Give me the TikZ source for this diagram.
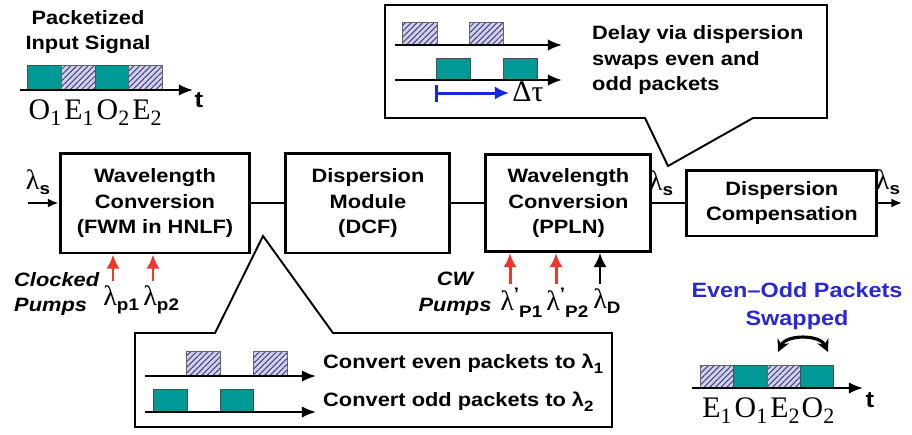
\documentclass[tikz,border=0pt]{standalone}
\usepackage{fontspec}
\setmainfont{Liberation Serif}
\setsansfont{Liberation Sans}[FakeStretch=1.13]
\usetikzlibrary{positioning, arrows.meta, patterns.meta}

\definecolor{pkteal}{RGB}{0,153,150}
\definecolor{pklav}{RGB}{208,208,236}
\definecolor{pknavy}{RGB}{50,50,115}
\definecolor{pumpred}{RGB}{240,55,45}
\definecolor{swapblue}{RGB}{40,40,215}
\definecolor{taublue}{RGB}{20,40,220}

\newcommand\lam[1]{{\rmfamily\mdseries\fontsize{16}{16}\selectfont λ}\raisebox{-0.55ex}{\fontsize{9.5}{9.5}\selectfont #1}}
\newcommand\lamp[1]{{\rmfamily\mdseries\fontsize{16}{16}\selectfont λ}\raisebox{1ex}{\fontsize{9.5}{9.5}\selectfont '}\raisebox{-0.75ex}{\fontsize{9.5}{9.5}\selectfont #1}}
\newcommand\pklbl[2]{#1\raisebox{-0.45ex}{\fontsize{12.5}{12.5}\selectfont #2}}

\begin{document}
\begin{tikzpicture}[
    x=0.02cm, y=-0.02cm,
    font=\sffamily\bfseries\fontsize{11}{14.7}\selectfont,
    box/.style={
        draw,
        line width=1.7pt,
        align=center,
        minimum height=2cm
    },
    wire/.style={line width=1.1pt},
    arrow/.style={
        -{Latex[length=6pt,width=5pt]},
        line width=1.1pt
    },
    pump/.style={
        -{Latex[length=8pt,width=7.5pt]},
        line width=1.7pt
    },
    callout/.style={draw, fill=white, line width=1.1pt},
    axis/.style={-{Latex[length=8pt,width=6.5pt]}, line width=1.2pt},
    oddpk/.style={fill=pkteal, draw=black!70, line width=0.4pt},
    evenpk/.style={
        preaction={fill=pklav},
        pattern={Lines[angle=45, distance=2.3pt, line width=0.5pt]},
        pattern color=pknavy,
        draw=black!60, line width=0.4pt
    },
    serif/.style={font=\rmfamily\mdseries\fontsize{17}{17}\selectfont}
]
\useasboundingbox (0,0) rectangle (912,434);

\node[box, minimum width=3.8cm] (fwm) at (155,203)
    {Wavelength\\Conversion\\(FWM in HNLF)};
\node[box, right=0.66cm of fwm, minimum width=3.28cm] (dcf)
    {Dispersion\\Module\\(DCF)};
\node[box, right=0.66cm of dcf, minimum width=3.3cm, minimum height=1.94cm] (ppln)
    {Wavelength\\Conversion\\(PPLN)};
\node[box, right=0.66cm of ppln, minimum width=3.8cm, minimum height=1.32cm] (comp)
    {Dispersion\\Compensation};

\coordinate (in) at (28,203);
\coordinate (out) at (902,203);
\node at (38,182) {\lam{s}};
\node at (661,183) {\lam{s}};
\node at (888,182) {\lam{s}};

\draw[arrow] (in) -- (fwm);
\draw[wire] (fwm) -- (dcf);
\draw[wire] (dcf) -- (ppln);
\draw[wire] (ppln) -- (comp);
\draw[arrow] (comp) -- (out);

\coordinate (p1) at (113,281);
\coordinate (p2) at (153,281);
\draw[pump, pumpred] (p1) -- (p1 |- fwm.south);
\draw[pump, pumpred] (p2) -- (p2 |- fwm.south);
\node[anchor=north west, inner sep=0pt] (lp1) at (103,285) {\lam{p1}};
\node[anchor=north west, inner sep=0pt] (lp2) at (143,285) {\lam{p2}};
\node[align=left, anchor=west, font=\sffamily\bfseries\itshape\fontsize{11}{14.7}\selectfont]
    (clk) at (8,294) {Clocked\\Pumps};

\coordinate (q1) at (510,284);
\coordinate (q2) at (556,284);
\coordinate (qd) at (600,284);
\draw[pump, pumpred] (q1) -- (q1 |- ppln.south);
\draw[pump, pumpred] (q2) -- (q2 |- ppln.south);
\draw[pump, line width=1.3pt] (qd) -- (qd |- ppln.south);
\node[anchor=north west, inner sep=0pt] (lq1) at (500,288) {\lamp{P1}};
\node[anchor=north west, inner sep=0pt] (lq2) at (546,288) {\lamp{P2}};
\node[anchor=north west, inner sep=0pt] (lqd) at (593,288) {\lam{D}};
\node[align=center, font=\sffamily\bfseries\itshape\fontsize{11}{14.7}\selectfont]
    (cw) at (455,294) {CW\\Pumps};

\node[align=center] (title) at (88,32) {Packetized\\Input Signal};
\draw[oddpk] (27,65) rectangle (61,90);
\draw[evenpk] (61,65) rectangle (95,90);
\draw[oddpk] (95,65) rectangle (128,90);
\draw[evenpk] (128,65) rectangle (162,90);
\draw[axis] (20,90) -- (193,90);
\node[font=\sffamily\bfseries\fontsize{13}{13}\selectfont] at (199,100) {t};
\node[serif] at (45,113) {\pklbl{O}{1}};
\node[serif] at (79,113) {\pklbl{E}{1}};
\node[serif] at (113,113) {\pklbl{O}{2}};
\node[serif] at (147,113) {\pklbl{E}{2}};

\draw[callout] (385,5) -- (827,5) -- (827,118) -- (753,118) -- (668,166)
    -- (645,118) -- (385,118) -- cycle;
\draw[evenpk] (402,22) rectangle (437,45);
\draw[evenpk] (469,22) rectangle (503,45);
\draw[axis] (395,45) -- (562,45);
\draw[oddpk] (436,58) rectangle (470,80);
\draw[oddpk] (503,58) rectangle (537,80);
\draw[axis] (395,80) -- (562,80);
\draw[taublue, line width=1.7pt] (436,85) -- (436,102);
\draw[pump, taublue] (436,93) -- (509,93);
\node[serif] at (528,92) {Δτ};
\node[align=left, anchor=west] (delay) at (586,60)
    {Delay via dispersion\\swaps even and\\odd packets};

\draw[callout] (135,333) -- (215,333) -- (263,236) -- (333,333)
    -- (612,333) -- (612,427) -- (135,427) -- cycle;
\draw[evenpk] (186,351) rectangle (220,376);
\draw[evenpk] (253,351) rectangle (287,376);
\draw[axis] (145,376) -- (316,376);
\draw[oddpk] (153,389) rectangle (187,412);
\draw[oddpk] (220,389) rectangle (253,412);
\draw[axis] (145,412) -- (316,412);
\node[anchor=west] (even) at (317,364) {Convert even packets to λ\raisebox{-0.5ex}{\fontsize{8.5}{8.5}\selectfont 1}};
\node[anchor=west] (odd) at (317,402) {Convert odd packets to λ\raisebox{-0.5ex}{\fontsize{8.5}{8.5}\selectfont 2}};

\node[align=center, text=swapblue, font=\sffamily\bfseries\fontsize{11.8}{16}\selectfont]
    (swap) at (797,306) {Even–Odd Packets\\Swapped};
\coordinate (sa) at (778,352);
\coordinate (sb) at (828,352);
\draw[{Stealth[length=7pt,width=7pt]}-{Stealth[length=7pt,width=7pt]}, line width=1.8pt]
    (sa) to[bend left=65] (sb);
\draw[evenpk] (700,365) rectangle (733,388);
\draw[oddpk] (733,365) rectangle (767,388);
\draw[evenpk] (767,365) rectangle (800,388);
\draw[oddpk] (800,365) rectangle (833,388);
\draw[axis] (692,388) -- (863,388);
\node[font=\sffamily\bfseries\fontsize{13}{13}\selectfont] at (870,400) {t};
\node[serif] at (717,411) {\pklbl{E}{1}};
\node[serif] at (751,411) {\pklbl{O}{1}};
\node[serif] at (785,411) {\pklbl{E}{2}};
\node[serif] at (818,411) {\pklbl{O}{2}};

\end{tikzpicture}
\end{document}
